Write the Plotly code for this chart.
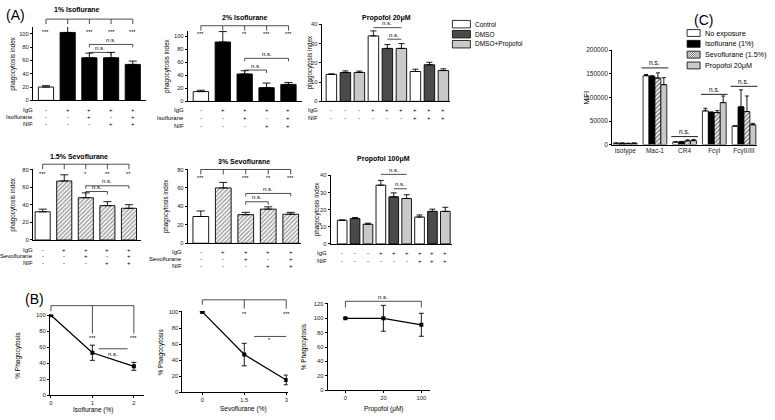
import plotly.graph_objects as go

W, H = 775, 420
FONT = "Liberation Sans, Arial, sans-serif"

# ---------------- data ----------------
row_igg_5 = ["-", "+", "+", "+", "+"]
row_drug_5 = ["-", "-", "+", "-", "+"]
row_nif_5 = ["-", "-", "-", "+", "+"]

iso1_values = [20, 102, 64, 64, 54]
iso1_errors = [2, 9, 7, 8, 5]
iso1_stars = ["***", "", "***", "***", "***"]
iso2_values = [15, 91, 42, 21, 26]
iso2_errors = [2, 16, 5, 7, 3]
iso2_stars = ["***", "", "**", "***", "***"]
sevo15_values = [32, 67, 48, 39, 36]
sevo15_errors = [3, 7, 5.5, 4.5, 4]
sevo15_stars = ["***", "", "*", "**", "**"]
sevo3_values = [29, 60, 31, 37, 31.5]
sevo3_errors = [6, 6, 2.5, 2.5, 2]
sevo3_stars = ["***", "", "***", "**", "***"]

prop_groups = ["Control", "DMSO", "DMSO+Propofol"]
row_igg_9 = ["-", "-", "-", "+", "+", "+", "+", "+", "+"]
row_nif_9 = ["-", "-", "-", "-", "-", "-", "+", "+", "+"]
prop20_values = [14, 15, 15, 34, 27.5, 27.5, 15.5, 19, 16]
prop20_errors = [0.3, 0.8, 0.7, 2.6, 2, 2.5, 1.2, 1.3, 0.9]
prop100_values = [13.8, 14.8, 11.5, 34.3, 27.5, 26.5, 15.7, 19, 19]
prop100_errors = [0.2, 0.6, 0.6, 2.8, 2.3, 2.2, 1.2, 1.3, 2.4]

iso_doses = [0, 1, 2]
iso_pct = [100, 53, 36]
iso_pct_err = [0, 9.5, 5]
sevo_doses = [0, 1.5, 3]
sevo_pct = [100, 47, 15.5]
sevo_pct_err = [0, 14, 6]
prop_doses = ["0", "20", "100"]
prop_pct = [100, 100, 91]
prop_pct_err = [0, 18, 16]

mfi_categories = ["Isotype", "Mac-1", "CR4", "FcγI", "FcγII/III"]
mfi_series = ["No exposure", "Isoflurane (1%)", "Sevoflurane (1.5%)", "Propofol 20μM"]
mfi_none = [3000, 146000, 5500, 71500, 39500]
mfi_none_err = [300, 2500, 600, 5500, 0]
mfi_iso = [3000, 145000, 6000, 68500, 80000]
mfi_iso_err = [300, 500, 800, 500, 36000]
mfi_sevo = [2500, 141000, 8000, 68000, 70000]
mfi_sevo_err = [300, 11000, 2000, 4000, 33000]
mfi_prop = [3000, 127000, 8500, 89000, 42000]
mfi_prop_err = [300, 15000, 2500, 14000, 3000]
mfi_ns = [None, 162500, 17000, 106500, 123500]

# ---------------- helpers ----------------
fig = go.Figure()
shapes, annos, axes = [], [], {}
count = [0]
LC = "#222"


def new_axes(x0, x1, ytop, ybot, xr, yr, xkw=None, ykw=None):
    count[0] += 1
    k = count[0]
    s = "" if k == 1 else str(k)
    xa = dict(domain=[x0 / W, x1 / W], range=xr, anchor="y" + s, showline=True,
              linecolor="black", linewidth=1, showgrid=False, zeroline=False,
              ticks="", showticklabels=False, fixedrange=True,
              tickfont=dict(size=6, family=FONT, color="#222"))
    ya = dict(domain=[1 - ybot / H, 1 - ytop / H], range=yr, anchor="x" + s,
              showline=True, linecolor="black", linewidth=1, showgrid=False,
              zeroline=False, ticks="outside", ticklen=2, tickwidth=1,
              tickcolor="black", fixedrange=True,
              tickfont=dict(size=5.8, family=FONT, color="#222"))
    if xkw:
        xa.update(xkw)
    if ykw:
        ya.update(ykw)
    axes["xaxis" + s] = xa
    axes["yaxis" + s] = ya

    def fx(v):
        return x0 + (v - xr[0]) / (xr[1] - xr[0]) * (x1 - x0)

    def fy(v):
        return ybot - (v - yr[0]) / (yr[1] - yr[0]) * (ybot - ytop)
    return "x" + s, "y" + s, fx, fy


def text(x, y, s, size=6, xanchor="center", bold=False, angle=0, color="black"):
    annos.append(dict(x=x / W, y=1 - y / H, xref="paper", yref="paper",
                      text=f"<b>{s}</b>" if bold else s, showarrow=False,
                      xanchor=xanchor, yanchor="middle", borderpad=0,
                      font=dict(size=size, family=FONT, color=color), textangle=angle))


def line(xa, ya, xb, yb, w=0.8, color=LC):
    shapes.append(dict(type="line", xref="paper", yref="paper", x0=xa / W,
                       y0=1 - ya / H, x1=xb / W, y1=1 - yb / H,
                       line=dict(color=color, width=w)))


def rect(xa, ya, xb, yb, fill):
    shapes.append(dict(type="rect", xref="paper", yref="paper", x0=xa / W,
                       y0=1 - yb / H, x1=xb / W, y1=1 - ya / H, fillcolor=fill,
                       line=dict(color="black", width=0.8)))


def hatch_box(xa, ya, xb, yb, step=2.2):
    rect(xa, ya, xb, yb, "white")
    c = xa + ya + step
    while c < xb + yb:
        lo = max(xa, c - yb)
        hi = min(xb, c - ya)
        if hi > lo:
            line(lo, c - lo, hi, c - hi, w=0.6, color="black")
        c += step


def comb(fx, fy, idxs, yval, tick):
    y = fy(yval)
    line(fx(idxs[0]), y, fx(idxs[-1]), y)
    for i in idxs:
        line(fx(i), y, fx(i), y + tick)


def ns_br(fx, fy, i, j, yval, tick=3, label="n.s.", dy=-4.5):
    y = fy(yval)
    line(fx(i), y, fx(j), y)
    if tick:
        line(fx(i), y, fx(i), y + tick)
        line(fx(j), y, fx(j), y + tick)
    text((fx(i) + fx(j)) / 2, y + dy, label, size=6)


def rows(fx, row_list, ys, labels, label_x):
    for r, yy, lab in zip(row_list, ys, labels):
        text(label_x, yy, lab, size=6, xanchor="right")
        for i, s in enumerate(r):
            text(fx(i), yy, s, size=6)


def err(arr, sym=False, w=3):
    d = dict(type="data", array=arr, color="black", thickness=0.9, width=w, visible=True)
    if not sym:
        d.update(symmetric=False, arrayminus=[0] * len(arr))
    return d


def five_bar_panel(vals, errs, stars, x0, x1, ytop, ybot, xr, yr, dtick, hatched,
                   title, title_xy, ylab_x, row_ys, row_label_x, drug, star_y,
                   top_y, ns1_y, ns2_y):
    xr_, yr_, fx, fy = new_axes(x0, x1, ytop, ybot, xr, yr,
                                ykw=dict(dtick=dtick, tick0=0))
    n = len(vals)
    colors = ["white"] + (["white"] * (n - 1) if hatched else ["black"] * (n - 1))
    pat = [""] + (["/"] * (n - 1) if hatched else [""] * (n - 1))
    fig.add_trace(go.Bar(x=list(range(n)), y=vals, xaxis=xr_, yaxis=yr_, width=0.7,
                         marker=dict(color=colors, line=dict(color="black", width=0.9),
                                     pattern=dict(shape=pat, fgcolor="black", bgcolor="white",
                                                  size=3, solidity=0.5)),
                         error_y=err(errs, w=4), showlegend=False))
    text(title_xy[0], title_xy[1], title, size=7, bold=True)
    text(ylab_x, (ytop + ybot) / 2, "phagocytosis index", size=6.3, angle=-90)
    rows(fx, [row_igg_5, drug[1], row_nif_5], row_ys, ["IgG", drug[0], "NIF"], row_label_x)
    comb(fx, fy, list(range(n)), top_y, 5)
    for i, s in enumerate(stars):
        if s:
            text(fx(i), fy(star_y), s, size=5.5)
    ns_br(fx, fy, 2, 4, ns1_y)
    ns_br(fx, fy, 2, 3, ns2_y)


# ---------------- Panel A: isoflurane / sevoflurane ----------------
text(15, 11, "(A)", size=14)

five_bar_panel(iso1_values, iso1_errors, iso1_stars, 32, 145, 23.5, 98, [-0.6, 4.6],
               [0, 110], 20, False, "1% Isoflurane", (76, 6), 12,
               [108, 115, 122], 33, ("Isoflurane", row_drug_5), 102, 122, 84, 72)
five_bar_panel(iso2_values, iso2_errors, iso2_stars, 187, 301, 27.4, 99, [-0.6, 4.6],
               [0, 108], 20, False, "2% Isoflurane", (244, 14), 166,
               [108, 116, 124], 184, ("Isoflurane", row_drug_5), 104, 116, 66, 48)
five_bar_panel(sevo15_values, sevo15_errors, sevo15_stars, 32, 140, 168.3, 240,
               [-0.45, 4.55], [0, 80], 20, True, "1.5% Sevoflurane", (78, 155), 12,
               [250, 256.5, 263], 33, ("Sevoflurane", row_drug_5), 74.5, 86, 61.5, 55)
five_bar_panel(sevo3_values, sevo3_errors, sevo3_stars, 187, 300, 168.3, 243.3,
               [-0.58, 4.44], [0, 80], 20, True, "3% Sevoflurane", (243, 160), 166,
               [252, 259, 266.5], 182, ("Sevoflurane", row_drug_5), 71, 80, 54, 45)


# ---------------- Panel A: propofol ----------------
PROP_COLORS = ["white", "#4a4a4a", "#c9c9c9"]


def prop_panel(vals, errs, x0, x1, ytop, ybot, xr, title, title_xy, ylab_x, row_ys,
               label_x, ns1, ns2):
    xr_, yr_, fx, fy = new_axes(x0, x1, ytop, ybot, xr, [0, 40],
                                ykw=dict(dtick=10, tick0=0))
    for g in range(3):
        idx = list(range(g, len(vals), 3))
        fig.add_trace(go.Bar(x=idx, y=[vals[i] for i in idx], xaxis=xr_, yaxis=yr_,
                             width=0.75, name=prop_groups[g],
                             marker=dict(color=PROP_COLORS[g],
                                         line=dict(color="black", width=0.9)),
                             error_y=err([errs[i] for i in idx], w=3), showlegend=False))
    text(title_xy[0], title_xy[1], title, size=7, bold=True)
    text(ylab_x, (ytop + ybot) / 2, "phagocytosis index", size=6.3, angle=-90)
    rows(fx, [row_igg_9, row_nif_9], row_ys, ["IgG", "NIF"], label_x)
    ns_br(fx, fy, 3, 5, ns1, tick=0)
    ns_br(fx, fy, 4, 5, ns2, tick=0)


prop_panel(prop20_values, prop20_errors, 321, 450, 20.7, 99, [-0.7, 8.5],
           "Propofol 20μM", (386, 14), 309, [108, 116], 318, 38.3, 32.3)
prop_panel(prop100_values, prop100_errors, 330, 452, 174.3, 244, [-0.9, 8.55],
           "Propofol 100μM", (383, 158), 316, [253, 261.5], 327, 40.6, 32.2)

# propofol legend
for g, name in enumerate(prop_groups):
    yy = 20.5 + g * 10.2
    rect(452, yy - 3.8, 470, yy + 3.8, PROP_COLORS[g])
    text(474, yy, name, size=6.5, xanchor="left")

# ---------------- Panel B ----------------
text(34, 300, "(B)", size=14)


def line_panel(xs, ys, es, x0, x1, ytop, ybot, xr, yr, xkw, xlabel, xlab_xy, ylab_x):
    xr_, yr_, fx, fy = new_axes(
        x0, x1, ytop, ybot, xr, yr,
        xkw=dict(ticks="outside", ticklen=2, tickwidth=1, tickcolor="black",
                 showticklabels=True, tickfont=dict(size=5.8, family=FONT, color="#222"),
                 **xkw),
        ykw=dict(dtick=20, tick0=0))
    fig.add_trace(go.Scatter(x=xs, y=ys, xaxis=xr_, yaxis=yr_, mode="lines+markers",
                             line=dict(color="black", width=1.3),
                             marker=dict(symbol="square", size=4, color="black"),
                             error_y=err(es, sym=True, w=2.5), showlegend=False))
    text(xlab_xy[0], xlab_xy[1], xlabel, size=6.5)
    text(ylab_x, (ytop + ybot) / 2, "% Phagocytosis", size=6.5, angle=-90)
    return fx, fy


fx, fy = line_panel(iso_doses, iso_pct, iso_pct_err, 49, 143, 315.7, 397.7, [-0.024, 2.24],
                    [0, 101], dict(tickvals=iso_doses), "Isoflurane (%)", (92, 413), 17)
y = fy(112)
line(fx(0), y, fx(2), y)
line(fx(0), y, fx(0), fy(105))
line(fx(1), y, fx(1), fy(77))
line(fx(2), y, fx(2), fy(77))
text(fx(1), fy(71), "***", size=5.5)
text(fx(2), fy(71), "***", size=5.5)
line(fx(1.15), fy(58), fx(1.85), fy(58))
text(fx(1.5), fy(52), "n.s.", size=6)

fx, fy = line_panel(sevo_doses, sevo_pct, sevo_pct_err, 181.7, 287, 312.3, 395,
                    [-0.71, 3.05], [0, 101],
                    dict(tickvals=sevo_doses, ticktext=["0", "1.5", "3"]),
                    "Sevoflurane (%)", (243, 412), 160)
y = fy(115)
line(fx(0), y, fx(3), y)
line(fx(0), y, fx(0), fy(109))
line(fx(1.5), y, fx(1.5), fy(104))
line(fx(3), y, fx(3), fy(104))
text(fx(1.5), fy(97), "**", size=5.5)
text(fx(3), fy(97), "***", size=5.5)
line(fx(1.85), fy(69.5), fx(3), fy(69.5))
text(fx(2.4), fy(65), "*", size=5.5)

fx3, fy3 = line_panel(prop_doses, prop_pct, prop_pct_err, 327, 430, 304.3, 392.7,
                      [-0.47, 2.24], [0, 121], dict(type="category"),
                      "Propofol (μM)", (383, 412), 303)
y = fy3(123.7)
line(fx3(0), y, fx3(2), y)
line(fx3(0), y, fx3(0), fy3(115))
line(fx3(2), y, fx3(2), fy3(115))
text(fx3(1), fy3(130), "n.s.", size=6)

# ---------------- Panel C ----------------
text(703, 16, "(C)", size=14)
xr_, yr_, fxc, fyc = new_axes(
    612, 757, 47, 143, [-0.44, 4.44], [0, 200000],
    xkw=dict(showticklabels=True, tickvals=list(range(5)), ticktext=mfi_categories,
             tickfont=dict(size=6.5, family=FONT, color="#222")),
    ykw=dict(dtick=50000, tick0=0, tickformat="d",
             tickfont=dict(size=6.5, family=FONT, color="#222")))
series = [(mfi_none, mfi_none_err, "white", ""), (mfi_iso, mfi_iso_err, "black", ""),
          (mfi_sevo, mfi_sevo_err, "white", "/"), (mfi_prop, mfi_prop_err, "#c9c9c9", "")]
BW = 0.2
for k, (v, e, col, pat) in enumerate(series):
    fig.add_trace(go.Bar(x=list(range(5)), y=v, xaxis=xr_, yaxis=yr_, width=BW,
                         offset=-2 * BW + k * BW, name=mfi_series[k],
                         marker=dict(color=col, line=dict(color="black", width=0.8),
                                     pattern=dict(shape=pat, fgcolor="black",
                                                  bgcolor="white", size=3, solidity=0.5)),
                         error_y=err(e, w=2), showlegend=False))
for i, v in enumerate(mfi_ns):
    if v:
        yy = fyc(v)
        line(fxc(i - 0.45), yy, fxc(i + 0.45), yy, w=1)
        text(fxc(i), yy - 5, "n.s.", size=6.5)
text(586, 95, "MFI", size=8, angle=-90)

for k, name in enumerate(mfi_series):
    yy = 29.5 + k * 11
    if k == 2:
        hatch_box(687, yy - 3.5, 700, yy + 3.5)
    else:
        rect(687, yy - 3.5, 700, yy + 3.5, series[k][2])
    text(704, yy, name, size=7.2, xanchor="left")

fig.update_layout(width=W, height=H, margin=dict(l=0, r=0, t=0, b=0),
                  paper_bgcolor="white", plot_bgcolor="white", barmode="overlay",
                  showlegend=False, shapes=shapes, annotations=annos,
                  font=dict(family=FONT, color="black"), **axes)
fig.write_html("out.html", config={"displayModeBar": False, "staticPlot": True},
               post_script="document.body.style.margin='0px';"
                           "document.body.style.overflow='hidden';")
